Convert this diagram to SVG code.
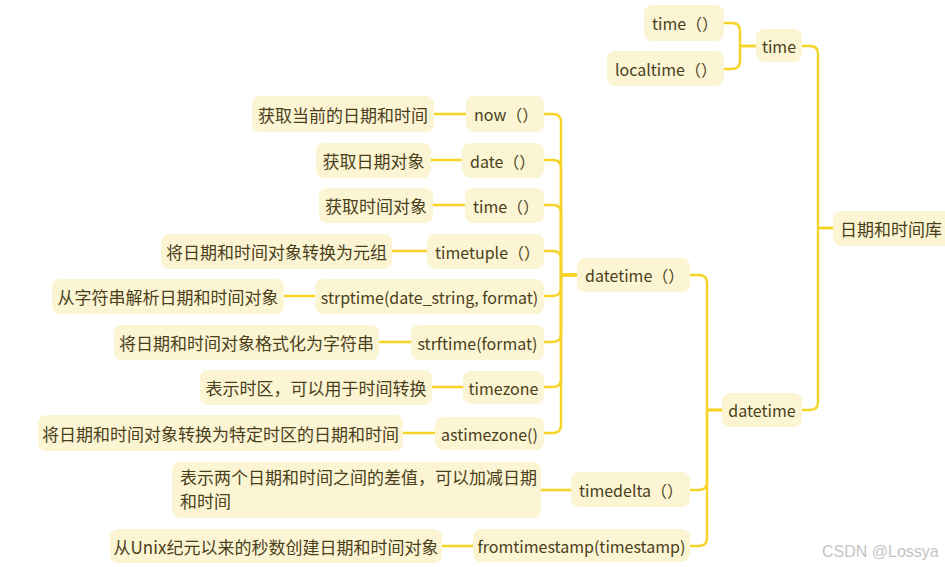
<svg xmlns="http://www.w3.org/2000/svg" width="945" height="567" viewBox="0 0 945 567">
<style>
.n{fill:#FCF5D4;}
.t{font-family:"Noto Sans CJK SC","Noto Sans",sans-serif;font-size:17px;fill:#4A3F1A;text-anchor:middle;dominant-baseline:central;}
.e{font-family:"Noto Sans CJK SC","Noto Sans",sans-serif;font-size:16px;fill:#4A3F1A;text-anchor:middle;dominant-baseline:central;}
.el{font-family:"Noto Sans CJK SC","Noto Sans",sans-serif;font-size:16px;fill:#4A3F1A;dominant-baseline:central;}
.tl{font-family:"Noto Sans CJK SC","Noto Sans",sans-serif;font-size:17px;fill:#4A3F1A;}
.c{fill:none;stroke:#F5D327;stroke-width:2.4;stroke-linecap:round;stroke-linejoin:round;}
.wm{font-family:"Liberation Sans",Arial,sans-serif;font-size:16px;fill:#C4C4C4;}
</style>
<rect width="945" height="567" fill="#FFFFFF"/>
<g id="connectors">
<path class="c" d="M833,228 H818 V54 Q818,46 810,46 H802"/>
<path class="c" d="M833,228 H818 V402 Q818,410 810,410 H802"/>
<path class="c" d="M756,46 H740 V31 Q740,23 732,23 H724"/>
<path class="c" d="M756,46 H740 V61 Q740,69 732,69 H724"/>
<path class="c" d="M722,410 H707 V283 Q707,275 699,275 H690"/>
<path class="c" d="M722,410 H707 V482 Q707,490 699,490 H690"/>
<path class="c" d="M722,410 H707 V538 Q707,546 699,546 H690"/>
<path class="c" d="M577,275 H561 V122 Q561,114 553,114 H544"/>
<path class="c" d="M577,275 H561 V168 Q561,160 553,160 H544"/>
<path class="c" d="M577,275 H561 V213 Q561,205 553,205 H544"/>
<path class="c" d="M577,275 H561 V259 Q561,251 553,251 H544"/>
<path class="c" d="M577,275 H561 V288 Q561,296 553,296 H544"/>
<path class="c" d="M577,275 H561 V334 Q561,342 553,342 H544"/>
<path class="c" d="M577,275 H561 V379 Q561,387 553,387 H544"/>
<path class="c" d="M577,275 H561 V425 Q561,433 553,433 H544"/>
<path class="c" d="M466,114 H434"/>
<path class="c" d="M462,160 H431"/>
<path class="c" d="M465,205 H433"/>
<path class="c" d="M427,251 H392"/>
<path class="c" d="M315,296 H284"/>
<path class="c" d="M411,342 H379"/>
<path class="c" d="M463,387 H432"/>
<path class="c" d="M435,433 H403"/>
<path class="c" d="M571,490 H541"/>
<path class="c" d="M473,546 H442"/>
</g>
<g id="root"><rect class="n" x="833" y="211" width="120" height="35" rx="8"/><text class="t" x="891" y="228.5">日期和时间库</text></g>
<g id="time"><rect class="n" x="756" y="29" width="46" height="33" rx="8"/><text class="e" x="779" y="45.5">time</text></g>
<g id="time_fn"><rect class="n" x="644" y="5" width="80" height="36" rx="8"/><text class="el" x="652" y="23">time（）</text></g>
<g id="localtime"><rect class="n" x="607" y="51" width="117" height="35" rx="8"/><text class="el" x="615" y="69">localtime（）</text></g>
<g id="datetime"><rect class="n" x="722" y="393" width="80" height="34" rx="8"/><text class="e" x="762" y="410">datetime</text></g>
<g id="datetime_fn"><rect class="n" x="577" y="258" width="113" height="34" rx="8"/><text class="el" x="585" y="275">datetime（）</text></g>
<g id="now"><rect class="n" x="466" y="96" width="78" height="36" rx="8"/><text class="el" x="474" y="114">now（）</text></g>
<g id="now_desc"><rect class="n" x="252" y="96" width="182" height="36" rx="8"/><text class="t" x="343" y="114">获取当前的日期和时间</text></g>
<g id="date"><rect class="n" x="462" y="143" width="82" height="35" rx="8"/><text class="el" x="470" y="160.5">date（）</text></g>
<g id="date_desc"><rect class="n" x="316" y="143" width="115" height="35" rx="8"/><text class="t" x="373.5" y="160.5">获取日期对象</text></g>
<g id="time2"><rect class="n" x="465" y="188" width="79" height="35" rx="8"/><text class="el" x="473" y="205.5">time（）</text></g>
<g id="time2_desc"><rect class="n" x="319" y="188" width="114" height="35" rx="8"/><text class="t" x="376" y="205.5">获取时间对象</text></g>
<g id="timetuple"><rect class="n" x="427" y="234" width="117" height="35" rx="8"/><text class="el" x="435" y="251.5">timetuple（）</text></g>
<g id="timetuple_desc"><rect class="n" x="161" y="234" width="231" height="35" rx="8"/><text class="t" x="276.5" y="251.5">将日期和时间对象转换为元组</text></g>
<g id="strptime"><rect class="n" x="315" y="279" width="229" height="35" rx="8"/><text class="e" x="429.5" y="296.5">strptime(date_string, format)</text></g>
<g id="strptime_desc"><rect class="n" x="52" y="279" width="232" height="35" rx="8"/><text class="t" x="168" y="296.5">从字符串解析日期和时间对象</text></g>
<g id="strftime"><rect class="n" x="411" y="325" width="133" height="35" rx="8"/><text class="e" x="477.5" y="342.5">strftime(format)</text></g>
<g id="strftime_desc"><rect class="n" x="114" y="325" width="265" height="35" rx="8"/><text class="t" x="246.5" y="342.5">将日期和时间对象格式化为字符串</text></g>
<g id="timezone"><rect class="n" x="463" y="371" width="81" height="33" rx="8"/><text class="e" x="503.5" y="387.5">timezone</text></g>
<g id="timezone_desc"><rect class="n" x="200" y="370" width="232" height="35" rx="8"/><text class="t" x="316" y="387.5">表示时区，可以用于时间转换</text></g>
<g id="astimezone"><rect class="n" x="435" y="417" width="109" height="33" rx="8"/><text class="e" x="489.5" y="433.5">astimezone()</text></g>
<g id="astimezone_desc"><rect class="n" x="38" y="415" width="365" height="36" rx="8"/><text class="t" x="220.5" y="433">将日期和时间对象转换为特定时区的日期和时间</text></g>
<g id="timedelta"><rect class="n" x="571" y="472" width="119" height="35" rx="8"/><text class="el" x="579" y="490">timedelta（）</text></g>
<g id="timedelta_desc"><rect class="n" x="172" y="462" width="369" height="56" rx="8"/><text class="tl" x="180" y="484"><tspan x="180">表示两个日期和时间之间的差值，可以加减日期</tspan><tspan x="180" dy="24">和时间</tspan></text></g>
<g id="fromtimestamp"><rect class="n" x="473" y="529" width="217" height="33" rx="8"/><text class="e" x="581.5" y="546">fromtimestamp(timestamp)</text></g>
<g id="fromtimestamp_desc"><rect class="n" x="110" y="529" width="332" height="34" rx="8"/><text class="t" x="276" y="546">从Unix纪元以来的秒数创建日期和时间对象</text></g>
<text class="wm" x="822" y="557">CSDN @Lossya</text>
</svg>
